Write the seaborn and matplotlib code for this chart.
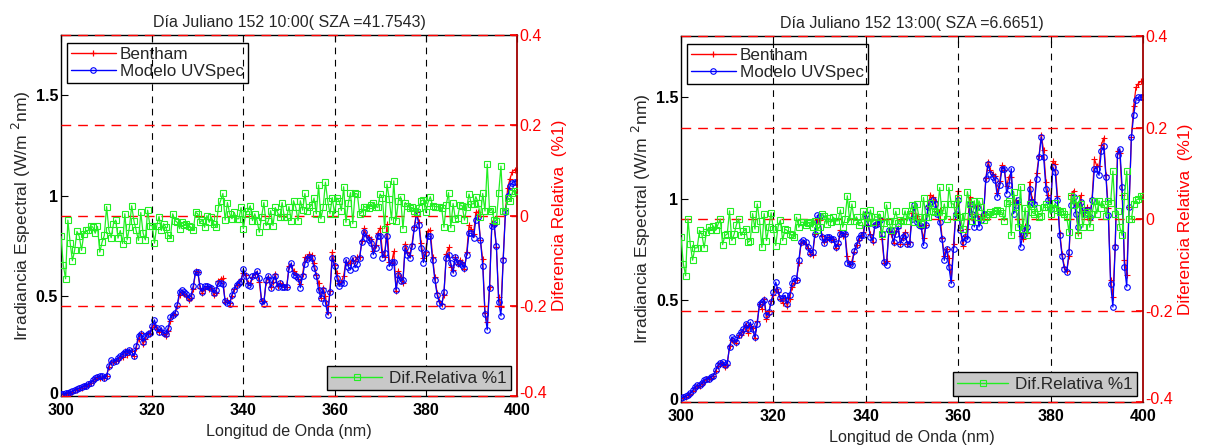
import numpy as np
import pandas as pd
import matplotlib
matplotlib.use("Agg")
import matplotlib.pyplot as plt
import matplotlib.transforms as mtransforms
from matplotlib.lines import Line2D
import seaborn as sns

sns.set_theme(style="white")
plt.rcParams["font.family"] = ["Liberation Sans", "DejaVu Sans"]

# Wavelength grid (nm), 0.5 nm step
wavelength = np.arange(300.0, 400.01, 0.5)

# --- Day 152, 10:00 -------------------------------------------------------
model_1000 = [
    0.010, 0.011, 0.013, 0.015, 0.018, 0.024, 0.030, 0.033, 0.040, 0.043,
    0.050, 0.052, 0.060, 0.066, 0.078, 0.088, 0.095, 0.100, 0.100, 0.092,
    0.100, 0.150, 0.178, 0.172, 0.176, 0.190, 0.200, 0.210, 0.222, 0.218,
    0.232, 0.220, 0.200, 0.250, 0.300, 0.310, 0.270, 0.300, 0.310, 0.315,
    0.350, 0.380, 0.340, 0.320, 0.340, 0.315, 0.310, 0.340, 0.395, 0.405,
    0.415, 0.456, 0.520, 0.527, 0.520, 0.510, 0.490, 0.500, 0.550, 0.617,
    0.617, 0.547, 0.520, 0.547, 0.547, 0.544, 0.540, 0.514, 0.530, 0.564,
    0.564, 0.560, 0.473, 0.465, 0.460, 0.505, 0.530, 0.556, 0.564, 0.572,
    0.634, 0.600, 0.556, 0.550, 0.600, 0.605, 0.622, 0.590, 0.473, 0.460,
    0.580, 0.600, 0.540, 0.580, 0.600, 0.544, 0.564, 0.544, 0.544, 0.544,
    0.634, 0.663, 0.605, 0.600, 0.590, 0.540, 0.600, 0.660, 0.683, 0.696,
    0.688, 0.640, 0.600, 0.530, 0.490, 0.530, 0.465, 0.406, 0.520, 0.690,
    0.650, 0.590, 0.547, 0.564, 0.564, 0.680, 0.646, 0.630, 0.690, 0.640,
    0.660, 0.690, 0.770, 0.820, 0.790, 0.780, 0.763, 0.705, 0.738, 0.800,
    0.800, 0.690, 0.713, 0.800, 0.646, 0.670, 0.670, 0.530, 0.605, 0.572,
    0.580, 0.738, 0.705, 0.690, 0.746, 0.837, 0.912, 0.854, 0.738, 0.666,
    0.713, 0.800, 0.796, 0.680, 0.580, 0.505, 0.465, 0.450, 0.520, 0.690,
    0.705, 0.663, 0.614, 0.696, 0.663, 0.663, 0.655, 0.640, 0.705, 0.812,
    0.812, 0.790, 0.880, 0.892, 0.780, 0.650, 0.410, 0.330, 0.540, 0.850,
    0.860, 0.750, 0.470, 0.400, 0.680, 0.920, 1.000, 1.050, 1.065, 1.070,
    1.070,
]
reldiff_1000 = [
    -0.046, -0.110, -0.140, -0.010, -0.060, -0.100, -0.076, -0.035, -0.046, -0.077,
    -0.040, -0.033, -0.033, -0.022, -0.026, -0.039, -0.024, -0.081, -0.059, -0.044,
    0.020, -0.032, -0.049, -0.018, -0.010, -0.050, -0.033, -0.062, 0.004, -0.054,
    -0.026, 0.022, -0.012, -0.033, -0.055, 0.007, -0.039, -0.054, 0.012, -0.022,
    -0.022, -0.061, -0.022, -0.002, -0.033, -0.018, -0.026, -0.044, -0.049, 0.004,
    -0.011, -0.015, -0.029, -0.015, -0.020, -0.018, -0.022, -0.026, -0.033, 0.007,
    0.004, -0.015, -0.010, -0.026, 0.000, -0.015, -0.004, -0.018, -0.026, 0.017,
    0.033, 0.049, -0.010, 0.029, 0.004, -0.007, 0.007, -0.007, -0.007, 0.018,
    -0.029, 0.004, 0.011, 0.022, -0.011, 0.004, -0.011, -0.037, -0.002, 0.029,
    -0.022, -0.011, 0.011, -0.022, 0.018, 0.007, -0.004, 0.029, -0.004, -0.004,
    0.020, -0.011, 0.033, 0.018, -0.011, 0.033, 0.012, 0.049, 0.011, 0.018,
    0.024, 0.039, 0.004, 0.068, -0.007, 0.018, 0.074, 0.032, 0.004, 0.040,
    0.004, 0.039, 0.033, 0.011, 0.064, -0.015, 0.027, 0.051, -0.018, 0.049,
    0.048, 0.004, 0.007, 0.020, 0.018, 0.017, 0.024, 0.027, 0.020, 0.018,
    0.048, 0.040, -0.029, 0.070, 0.037, -0.010, 0.077, -0.011, 0.033, 0.042,
    -0.029, 0.029, 0.022, 0.017, 0.018, 0.010, 0.007, 0.017, 0.033, 0.035,
    0.007, 0.029, 0.042, 0.022, 0.020, 0.020, 0.018, 0.017, -0.026, 0.024,
    0.051, -0.027, 0.027, -0.007, -0.005, 0.024, 0.022, -0.010, 0.018, 0.048,
    0.026, 0.026, 0.042, 0.029, -0.004, 0.049, 0.010, 0.114, 0.010, 0.015,
    -0.010, -0.011, 0.051, 0.110, 0.011, 0.011, 0.040, 0.033, 0.051, 0.055,
    0.055,
]

# --- Day 152, 13:00 -------------------------------------------------------
model_1300 = [
    0.020, 0.025, 0.028, 0.033, 0.044, 0.057, 0.074, 0.082, 0.082, 0.093,
    0.107, 0.115, 0.115, 0.123, 0.130, 0.156, 0.180, 0.190, 0.197, 0.180,
    0.190, 0.270, 0.320, 0.310, 0.295, 0.328, 0.344, 0.360, 0.385, 0.360,
    0.393, 0.360, 0.320, 0.385, 0.484, 0.490, 0.503, 0.426, 0.443, 0.490,
    0.540, 0.590, 0.550, 0.510, 0.510, 0.525, 0.484, 0.525, 0.585, 0.610,
    0.598, 0.697, 0.787, 0.795, 0.787, 0.762, 0.733, 0.738, 0.828, 0.918,
    0.913, 0.810, 0.780, 0.810, 0.810, 0.803, 0.800, 0.760, 0.780, 0.828,
    0.830, 0.828, 0.685, 0.680, 0.672, 0.743, 0.770, 0.808, 0.820, 0.820,
    0.926, 0.880, 0.810, 0.795, 0.869, 0.874, 0.893, 0.828, 0.689, 0.672,
    0.844, 0.848, 0.787, 0.828, 0.864, 0.779, 0.810, 0.820, 0.779, 0.779,
    0.902, 0.967, 0.885, 0.869, 0.864, 0.770, 0.869, 0.959, 0.984, 0.992,
    0.975, 0.926, 0.885, 0.803, 0.697, 0.754, 0.664, 0.582, 0.754, 0.926,
    0.992, 0.844, 0.787, 0.810, 0.803, 0.975, 0.926, 0.861, 0.959, 0.861,
    0.893, 0.926, 1.098, 1.169, 1.123, 1.107, 1.090, 1.008, 1.066, 1.148,
    1.148, 1.025, 1.066, 1.148, 0.926, 0.967, 0.992, 0.762, 0.820, 0.844,
    0.861, 1.049, 0.984, 0.975, 1.098, 1.205, 1.303, 1.205, 1.049, 0.992,
    0.951, 1.156, 1.131, 0.992, 0.820, 0.716, 0.656, 0.639, 0.738, 0.967,
    1.008, 0.926, 0.861, 0.984, 0.946, 0.926, 0.943, 0.910, 0.992, 1.148,
    1.148, 1.115, 1.234, 1.257, 1.107, 0.918, 0.582, 0.467, 0.762, 1.213,
    1.246, 1.057, 0.664, 0.566, 0.959, 1.303, 1.410, 1.487, 1.500, 1.500,
    1.500,
]
reldiff_1300 = [
    -0.040, -0.098, -0.124, 0.000, -0.055, -0.090, -0.063, -0.063, -0.025, -0.033,
    -0.063, -0.029, -0.018, -0.025, -0.015, -0.025, -0.012, 0.000, -0.056, -0.036,
    -0.033, 0.018, -0.047, -0.033, -0.012, 0.000, -0.036, -0.027, -0.022, -0.051,
    -0.047, 0.012, -0.022, 0.033, -0.004, -0.062, 0.012, -0.047, -0.018, 0.014,
    -0.022, -0.058, -0.017, -0.002, -0.047, -0.022, -0.025, -0.033, -0.036, -0.039,
    0.004, -0.018, -0.007, -0.007, -0.012, -0.009, -0.007, -0.018, -0.004, -0.025,
    -0.018, 0.011, 0.007, -0.011, 0.002, -0.007, 0.004, -0.004, -0.004, 0.020,
    -0.018, 0.000, 0.051, -0.004, 0.033, -0.004, 0.005, -0.012, -0.007, 0.017,
    0.007, -0.009, 0.020, -0.007, 0.005, 0.004, 0.011, -0.033, -0.009, 0.031,
    -0.004, -0.025, -0.004, 0.017, -0.009, -0.002, -0.004, 0.018, -0.004, 0.012,
    0.031, -0.007, 0.033, 0.004, -0.011, 0.047, 0.004, 0.005, 0.036, 0.017,
    0.015, 0.015, 0.069, 0.007, 0.033, 0.000, 0.069, 0.033, 0.033, 0.005,
    0.047, 0.004, -0.022, 0.007, 0.060, 0.033, -0.004, 0.040, 0.004, 0.040,
    0.027, -0.002, 0.005, 0.011, 0.015, 0.011, 0.018, 0.020, 0.018, 0.014,
    -0.004, 0.036, 0.040, -0.036, 0.060, 0.027, -0.018, 0.071, -0.022, 0.025,
    -0.036, 0.033, 0.015, 0.011, 0.025, 0.004, 0.007, 0.027, 0.033, 0.027,
    0.011, 0.024, 0.034, 0.020, 0.015, 0.018, 0.011, 0.005, -0.029, 0.051,
    0.031, 0.044, -0.036, 0.033, -0.018, 0.011, 0.015, -0.018, 0.012, 0.040,
    0.012, 0.040, 0.025, 0.033, 0.007, 0.040, 0.035, 0.105, 0.011, 0.018,
    -0.018, -0.036, 0.051, 0.105, 0.000, 0.000, 0.033, 0.041, 0.044, 0.051,
    0.051,
]

titles = [
    "Día Juliano 152 10:00( SZA =41.7543)",
    "Día Juliano 152 13:00( SZA =6.6651)",
]
x_ticks = [300, 320, 340, 360, 380, 400]
x_ticklabels = ["300", "320", "340", "360", "380", "400"]
y_ticks = [0, 0.5, 1, 1.5]
y_ticklabels = ["0", "0.5", "1", "1.5"]
diff_ticks = [-0.4, -0.2, 0, 0.2, 0.4]
diff_ticklabels = ["-0.4", "-0.2", "0", "0.2", "0.4"]
grid_x = [320, 340, 360, 380]
series_labels = ["Bentham", "Modelo UVSpec", "Dif.Relativa %1"]

GREEN = "#22ee22"
SPINE_RED = "#a00000"
FS = 11


def lift(fig, label, px):
    """Shift a tick label upward by a few pixels."""
    label.set_transform(label.get_transform()
                        + mtransforms.ScaledTranslation(0, px / 100.0,
                                                        fig.dpi_scale_trans))


def draw_panel(fig, ax, model, reldiff, title):
    model = np.asarray(model)
    reldiff = np.asarray(reldiff)
    # relative difference is (Bentham - model) / model
    bentham = model * (1.0 + reldiff)
    df = pd.DataFrame({"wl": wavelength, "bentham": bentham,
                       "model": model, "dif": reldiff})

    sns.lineplot(data=df, x="wl", y="bentham", ax=ax, color="red", lw=0.9,
                 marker="+", markersize=5, markeredgecolor="red",
                 markeredgewidth=0.8, estimator=None, sort=False, zorder=2)
    sns.lineplot(data=df, x="wl", y="model", ax=ax, color="blue", lw=0.9,
                 marker="o", markersize=4, markerfacecolor="none",
                 markeredgecolor="blue", markeredgewidth=0.8,
                 estimator=None, sort=False, zorder=3)

    ax.set_xlim(300, 400)
    ax.set_ylim(0, 1.8)
    ax.set_xticks(x_ticks)
    ax.set_xticklabels(x_ticklabels, fontweight="bold")
    ax.set_yticks(y_ticks)
    ax.set_yticklabels(y_ticklabels, fontweight="bold")
    ax.tick_params(direction="in", top=True, right=True, length=5, width=0.8,
                   labelsize=FS + 0.5, colors="black", pad=2)
    ax.tick_params(axis="x", pad=5)
    for side in ("left", "top", "bottom"):
        ax.spines[side].set_color("black")
        ax.spines[side].set_linewidth(1.0)
    ax.spines["right"].set_visible(False)
    ax.set_xlabel("Longitud de Onda (nm)", fontsize=11.6, labelpad=4)
    ax.set_ylabel("Irradiancia Espectral (W/m $^{2}$nm)", fontsize=12.6,
                  labelpad=2)
    ax.set_title(title, fontsize=11.5, pad=6)
    ax.grid(False)
    lift(fig, ax.get_yticklabels()[0], 3)

    leg1 = ax.legend(
        handles=[
            Line2D([], [], color="red", lw=1.0, marker="+", ms=5, mew=0.9),
            Line2D([], [], color="blue", lw=1.0, marker="o", ms=4,
                   mfc="none", mew=0.8),
        ],
        labels=series_labels[:2], loc="upper left",
        bbox_to_anchor=(0.014, 0.978), borderaxespad=0, fontsize=12.3,
        frameon=True, fancybox=False, edgecolor="black", framealpha=1,
        handlelength=2.6, handletextpad=0.25, borderpad=0.22,
        labelspacing=0.15)
    leg1.get_frame().set_linewidth(1.0)

    ax2 = ax.twinx()
    for v in grid_x:
        ax2.axvline(v, color="black", ls=(0, (6, 5)), lw=0.8, zorder=1)
    for v in diff_ticks:
        edge = v in (-0.4, 0.4)
        ax2.axhline(v, color="red", ls=(0, (7, 5)), lw=1.0, clip_on=False,
                    zorder=4 if edge else 1.5)
    sns.lineplot(data=df, x="wl", y="dif", ax=ax2, color=GREEN, lw=0.9,
                 marker="s", markersize=4, markerfacecolor="none",
                 markeredgecolor=GREEN, markeredgewidth=0.8,
                 estimator=None, sort=False, zorder=3)
    ax2.set_ylim(-0.4, 0.4)
    ax2.set_xlim(300, 400)
    ax2.set_yticks(diff_ticks)
    ax2.set_yticklabels(diff_ticklabels)
    ax2.tick_params(axis="y", direction="in", length=5, colors="red",
                    labelcolor="red", labelsize=FS + 0.5, pad=2)
    for side in ("left", "top", "bottom"):
        ax2.spines[side].set_visible(False)
    ax2.spines["right"].set_color(SPINE_RED)
    ax2.spines["right"].set_linewidth(1.3)
    ax2.set_ylabel("Diferencia Relativa  (%1)", color="red", fontsize=12.4,
                   labelpad=3)
    ax2.set_xlabel("")
    ax2.grid(False)
    lift(fig, ax2.get_yticklabels()[0], 4)

    leg2 = ax2.legend(
        handles=[Line2D([], [], color=GREEN, lw=1.0, marker="s", ms=4,
                        mfc="none", mew=0.8)],
        labels=series_labels[2:], loc="lower right",
        bbox_to_anchor=(0.987, 0.017), borderaxespad=0, fontsize=12.3,
        frameon=True, fancybox=False, edgecolor="black", facecolor="#c8c8c8",
        framealpha=1, handlelength=3.0, handletextpad=0.4, borderpad=0.25)
    leg2.get_frame().set_linewidth(1.0)


fig = plt.figure(figsize=(12.06, 4.45), dpi=100)
ax_left = fig.add_axes([0.0506, 0.110, 0.378, 0.811])
ax_right = fig.add_axes([0.5647, 0.0966, 0.383, 0.8224])

draw_panel(fig, ax_left, model_1000, reldiff_1000, titles[0])
draw_panel(fig, ax_right, model_1300, reldiff_1300, titles[1])

fig.savefig("out.png", dpi=100, facecolor="white")
